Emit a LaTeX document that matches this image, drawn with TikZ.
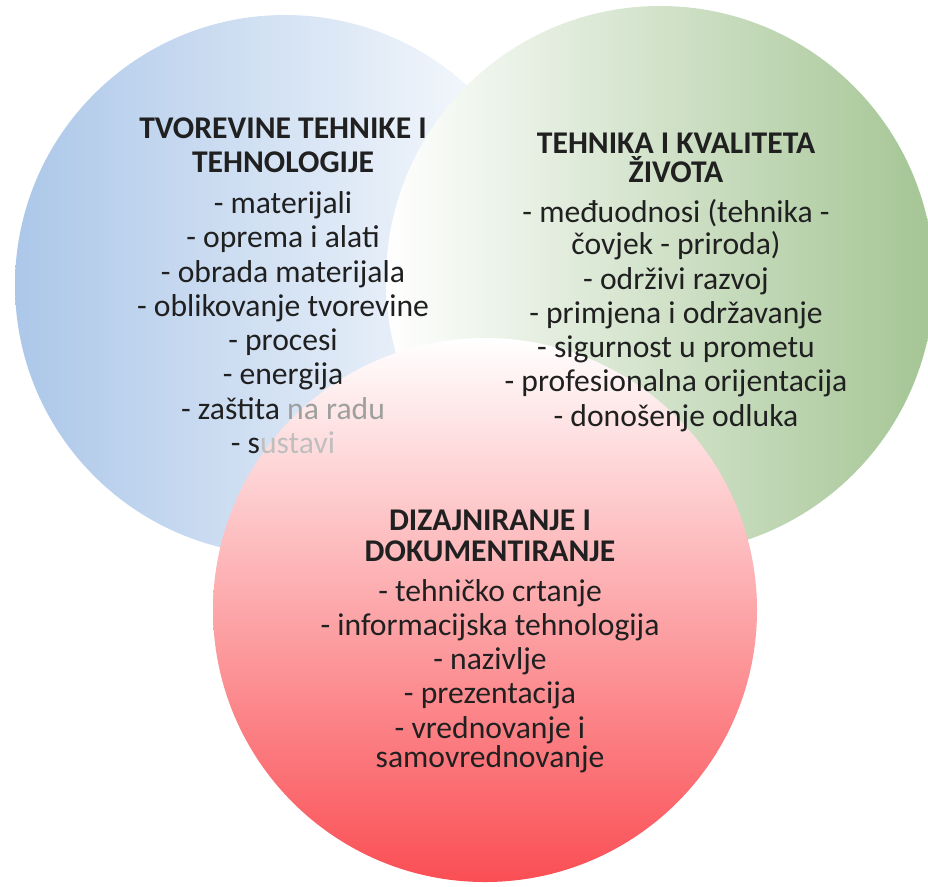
\documentclass[tikz,border=0pt]{standalone}
\usepackage{fontspec}
\setmainfont{Carlito}
\usepackage{tikz}

\definecolor{krugplavi}{RGB}{172,199,233}
\definecolor{krugzeleni}{RGB}{164,197,148}
\definecolor{krugcrveni}{RGB}{250,78,84}
\definecolor{tekst}{RGB}{32,32,32}

\tikzset{
  popis/.style={align=center, inner sep=0pt, anchor=north, text=tekst,
    font=\fontsize{18}{19.5}\selectfont},
}

\begin{document}
\begin{tikzpicture}[x=0.02cm, y=-0.02cm]
\useasboundingbox (0,0) rectangle (928,886);
% krugovi
\shade [left color=krugplavi, middle color=krugplavi!16!white, right color=white] (285,285) circle (270);
\shade [left color=white, middle color=krugzeleni!35!white, right color=krugzeleni] (660,280) circle (274);
\shade [top color=white, middle color=krugcrveni!35!white, bottom color=krugcrveni] (485,610) circle (272);
% tekstovi
\node [popis] (tvorevine) at (283,117) {\textbf{TVOREVINE TEHNIKE I}\\ \textbf{TEHNOLOGIJE}\\[4pt]
  - materijali\\ - oprema i alati\\ - obrada materijala\\ - oblikovanje tvorevine\\
  - procesi\\ - energija\\ - zaštita {\color{gray!75}na radu}\\ - s{\color{gray!50}ustavi}};
\node [popis] (kvaliteta) at (676,133) {\textbf{TEHNIKA I KVALITETA}\\[-3pt] \textbf{ŽIVOTA}\\[3pt]
  - međuodnosi (tehnika -\\[-1pt] čovjek - priroda)\\ - održivi razvoj\\ - primjena i održavanje\\
  - sigurnost u prometu\\ - profesionalna orijentacija\\ - donošenje odluka};
\node [popis] (dizajn) at (490,510) {\textbf{DIZAJNIRANJE I}\\[-2pt] \textbf{DOKUMENTIRANJE}\\[3pt]
  - tehničko crtanje\\ - informacijska tehnologija\\ - nazivlje\\ - prezentacija\\
  - vrednovanje i\\[-3pt] samovrednovanje};
\end{tikzpicture}
\end{document}
